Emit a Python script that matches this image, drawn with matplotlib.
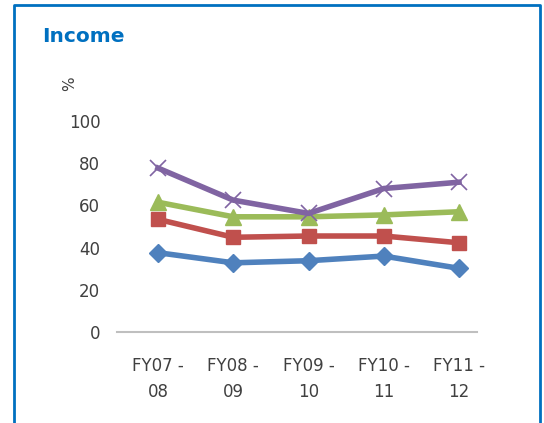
import matplotlib.pyplot as plt
from matplotlib.lines import Line2D

plt.rcParams['font.family'] = ['DejaVu Sans']

# Data
periods = ['FY07 -\n08', 'FY08 -\n09', 'FY09 -\n10', 'FY10 -\n11', 'FY11 -\n12']
blue_vals = [37.6, 32.8, 33.8, 36.0, 30.2]
red_vals = [53.4, 44.9, 45.5, 45.5, 42.3]
green_vals = [61.5, 54.6, 54.6, 55.5, 57.0]
purple_vals = [77.7, 62.5, 56.2, 68.0, 71.0]
y_ticks = [0, 20, 40, 60, 80, 100]

fig = plt.figure(figsize=(5.44, 4.23), dpi=100)
ax = fig.add_axes([0.215, 0.215, 0.662, 0.499])

x = range(len(periods))
ax.plot(x, blue_vals, color='#4F81BD', lw=4, marker='D', ms=9)
ax.plot(x, red_vals, color='#C0504D', lw=4, marker='s', ms=10)
ax.plot(x, green_vals, color='#9BBB59', lw=4, marker='^', ms=11)
ax.plot(x, purple_vals, color='#8064A2', lw=4, marker='x', ms=12, mew=1.2)

ax.set_xlim(-0.545, 4.24)
ax.set_ylim(0, 100)
ax.set_yticks(y_ticks)
ax.set_xticks(list(x))
ax.set_xticklabels(periods, linespacing=1.55)
ax.tick_params(axis='both', length=0, labelsize=12, labelcolor='#404040')
ax.tick_params(axis='y', pad=12)
ax.tick_params(axis='x', pad=18)

for s in ['top', 'right', 'left']:
    ax.spines[s].set_visible(False)
ax.spines['bottom'].set_color('#BFBFBF')
ax.spines['bottom'].set_linewidth(1.5)

fig.text(70 / 544, 1 - 84 / 423, '%', rotation=90, fontsize=11, color='#404040',
         ha='center', va='center')
fig.text(42 / 544, 1 - 37 / 423, 'Income', fontsize=14.5, fontweight='bold',
         color='#0070C0', ha='left', va='center')

# blue frame (open at the bottom)
bx = [14 / 544, 14 / 544, 540 / 544, 540 / 544]
by = [0, 1 - 5 / 423, 1 - 5 / 423, 0]
fig.add_artist(Line2D(bx, by, color='#0070C0', lw=2, transform=fig.transFigure))

fig.savefig('out.png', dpi=100)
